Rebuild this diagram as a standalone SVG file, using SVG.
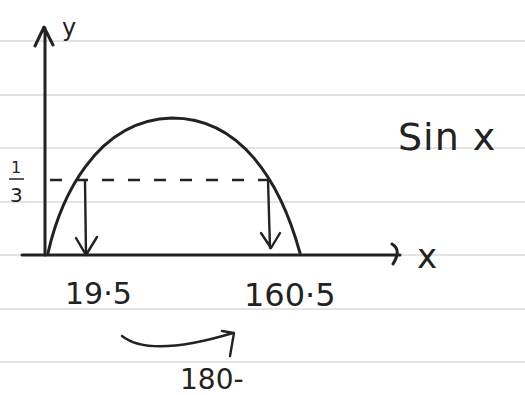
<svg xmlns="http://www.w3.org/2000/svg" width="525" height="395" viewBox="0 0 525 395">
<style>
.rule{stroke:#c8c8c8;stroke-width:1.2}
.ink{fill:none;stroke:#222;stroke-width:3;stroke-linecap:round;stroke-linejoin:round}
.thin{fill:none;stroke:#222;stroke-width:2.4;stroke-linecap:round;stroke-linejoin:round}
.t{font-family:"DejaVu Sans",sans-serif;fill:#222}
</style>
<rect width="525" height="395" fill="#fff"/>
<g id="paper">
<line class="rule" x1="0" y1="41" x2="525" y2="41"/>
<line class="rule" x1="0" y1="95" x2="525" y2="95"/>
<line class="rule" x1="0" y1="148" x2="525" y2="148"/>
<line class="rule" x1="0" y1="202" x2="525" y2="202"/>
<line class="rule" x1="0" y1="255" x2="525" y2="255"/>
<line class="rule" x1="0" y1="309" x2="525" y2="309"/>
<line class="rule" x1="0" y1="362" x2="525" y2="362"/>
</g>
<g id="axes">
<path class="ink" d="M45 255 L45 28 M35 46 L44 27 L53 45"/>
<path class="ink" d="M22 255 L400 255 M392 244 Q402 250 393 264"/>
</g>
<g id="curve">
<path class="ink" d="M48 253 C60 200 95 120 172 118 C240 118 280 180 300 253"/>
</g>
<g id="connectors">
<line x1="50" y1="180" x2="268" y2="180" stroke="#222" stroke-width="2.6" stroke-dasharray="12 14"/>
<path class="thin" d="M85 180 L86 255 M76 238 L86 255 L97 237"/>
<path class="thin" d="M268 180 L270 248 M261 233 L271 248 L280 233"/>
<path class="thin" d="M122 336 Q150 358 233 333 M222 331 L234 333 L230 356"/>
</g>
<g id="labels">
<text class="t" x="62" y="36" font-size="24">y</text>
<text class="t" x="398" y="150" font-size="38" letter-spacing="1">Sin x</text>
<text class="t" x="11" y="173" font-size="16">1</text>
<line x1="9" y1="179" x2="24" y2="179" stroke="#222" stroke-width="1.5"/>
<text class="t" x="10" y="202" font-size="20">3</text>
<text class="t" x="417" y="268" font-size="34">x</text>
<text class="t" x="65" y="304" font-size="30">19·5</text>
<text class="t" x="244" y="306" font-size="32">160·5</text>
<text class="t" x="180" y="389" font-size="28">180-</text>
</g>
</svg>
